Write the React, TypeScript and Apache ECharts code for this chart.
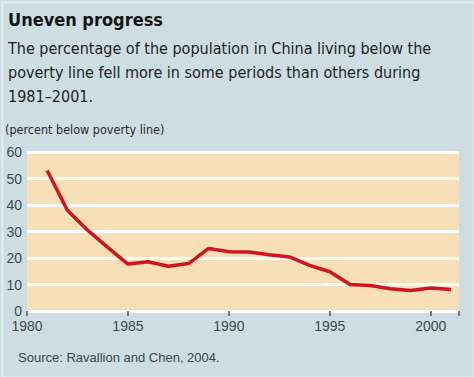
import React, { useEffect, useRef } from "react";
import * as echarts from "echarts";

const years = [1981, 1982, 1983, 1984, 1985, 1986, 1987, 1988, 1989, 1990, 1991, 1992, 1993, 1994, 1995, 1996, 1997, 1998, 1999, 2000, 2001];
const povertyPct = [53, 38, 30.5, 24, 17.7, 18.6, 16.9, 17.9, 23.6, 22.4, 22.3, 21.2, 20.4, 17.2, 14.8, 10.0, 9.6, 8.4, 7.7, 8.7, 8.1];
const xTickValues = [1980, 1985, 1990, 1995, 2000, 2001.4];
const xLabelValues = [1980, 1985, 1990, 1995, 2000];

const title = "Uneven progress";
const subtitleLines = [
  "The percentage of the population in China living below the",
  "poverty line fell more in some periods than others during",
  "1981\u20132001.",
];
const unitLabel = "(percent below poverty line)";
const sourceText = "Source: Ravallion and Chen, 2004.";

const NARROW = "'DejaVu Sans Condensed', 'Liberation Sans Narrow', sans-serif";
const SANS = "'Liberation Sans', Arial, sans-serif";

export default function App() {
  const ref = useRef<HTMLDivElement>(null);
  useEffect(() => {
    if (!ref.current) return;
    const chart = echarts.init(ref.current, undefined, { renderer: "svg" });
    chart.setOption({
      animation: false,
      backgroundColor: "#cedde2",
      grid: { left: 27, right: 15, top: 152, bottom: 66, show: true, backgroundColor: "#f7e0b8", borderWidth: 0 },
      graphic: [
        { type: "rect", left: 0, top: 0, shape: { x: 0, y: 0, width: 472, height: 375 }, style: { fill: "none", stroke: "#e2edf0", lineWidth: 2 }, silent: true, z: -1 },
        { type: "text", left: 8, top: 10, style: { text: title, font: `bold 18px ${NARROW}`, fill: "#151515" } },
        ...subtitleLines.map((t, i) => ({
          type: "text", left: 8, top: 40 + i * 24,
          style: { text: t, font: `16px ${NARROW}`, fill: "#222222" },
        })),
        { type: "text", left: 5, top: 123, style: { text: unitLabel, font: `12.5px ${NARROW}`, fill: "#2a2a2a" } },
        { type: "text", left: 18, top: 351, style: { text: sourceText, font: `13px ${SANS}`, fill: "#3b464c" } },
      ],
      xAxis: {
        type: "value",
        min: 1980,
        max: 2001.4,
        axisLine: { show: false },
        splitLine: { show: false },
        axisTick: { show: true, customValues: xTickValues, length: 5, inside: false, lineStyle: { color: "#555", width: 1.5 } },
        axisLabel: {
          customValues: xLabelValues,
          formatter: (v: number) => String(v),
          color: "#3e4a50",
          fontSize: 14,
          lineHeight: 14,
          fontFamily: SANS,
          margin: 8,
          hideOverlap: false,
        },
      },
      yAxis: {
        type: "value",
        min: 0,
        max: 60,
        interval: 10,
        axisLine: { show: false },
        axisTick: { show: false },
        splitLine: { show: true, lineStyle: { color: "#ffffff", width: 3 } },
        axisLabel: { color: "#3e4a50", fontSize: 14, lineHeight: 12, fontFamily: SANS, margin: 5 },
      },
      series: [
        {
          type: "line",
          data: years.map((y, i) => [y, povertyPct[i]]),
          showSymbol: false,
          lineStyle: { color: "#d0151f", width: 3.5 },
          z: 3,
        },
      ],
    });
    return () => chart.dispose();
  }, []);
  return <div ref={ref} style={{ width: 474, height: 377, position: "absolute", left: 0, top: 0 }} />;
}
